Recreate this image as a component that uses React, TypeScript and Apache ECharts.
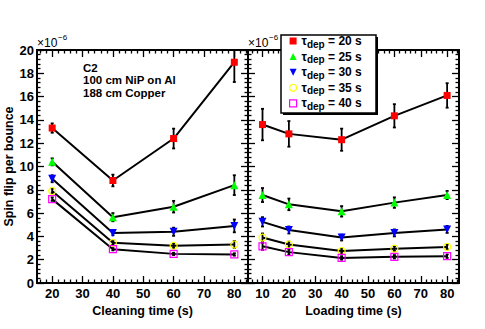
import React, { useEffect, useRef } from "react";
import * as echarts from "echarts";

// ---------- data (values in units of 1e-6) ----------
const tauValues = [20, 25, 30, 35, 40];
const cleaningTimes = [20, 40, 60, 80];
const loadingTimes = [10, 20, 40, 60, 80];

const clean20 = [13.3, 8.8, 12.4, 18.95];
const clean20Err = [0.4, 0.5, 0.85, 1.7];
const clean25 = [10.4, 5.65, 6.55, 8.4];
const clean25Err = [0.3, 0.35, 0.5, 0.85];
const clean30 = [8.95, 4.3, 4.4, 4.9];
const clean30Err = [0.3, 0.2, 0.35, 0.55];
const clean35 = [7.9, 3.45, 3.2, 3.3];
const clean35Err = [0.2, 0.15, 0.2, 0.3];
const clean40 = [7.2, 2.9, 2.5, 2.45];
const clean40Err = [0.15, 0.1, 0.1, 0.1];

const load20 = [13.6, 12.8, 12.3, 14.35, 16.1];
const load20Err = [1.35, 1.1, 0.95, 1.0, 1.05];
const load25 = [7.55, 6.75, 6.15, 6.9, 7.55];
const load25Err = [0.6, 0.5, 0.45, 0.45, 0.35];
const load30 = [5.25, 4.55, 3.9, 4.3, 4.6];
const load30Err = [0.4, 0.3, 0.25, 0.3, 0.3];
const load35 = [3.9, 3.3, 2.75, 2.95, 3.1];
const load35Err = [0.35, 0.25, 0.2, 0.2, 0.2];
const load40 = [3.15, 2.65, 2.15, 2.25, 2.3];
const load40Err = [0.3, 0.2, 0.15, 0.15, 0.15];

const cleanMajorTicks = [20, 30, 40, 50, 60, 70, 80];
const cleanMinorTicks = [16, 18, 22, 24, 26, 28, 32, 34, 36, 38, 42, 44, 46, 48, 52, 54, 56, 58, 62, 64, 66, 68, 72, 74, 76, 78, 82, 84];
const loadMajorTicks = [10, 20, 30, 40, 50, 60, 70, 80];
const loadMinorTicks = [6, 8, 12, 14, 16, 18, 22, 24, 26, 28, 32, 34, 36, 38, 42, 44, 46, 48, 52, 54, 56, 58, 62, 64, 66, 68, 72, 74, 76, 78, 82, 84];

const annotationLines = ["C2", "100 cm NiP on Al", "188 cm Copper"];
const xTitleLeft = "Cleaning time (s)";
const xTitleRight = "Loading time (s)";
const yTitle = "Spin flip per bounce";

// ---------- styles ----------
const FONT = "Liberation Sans, Arial, Helvetica, sans-serif";
const colors = ["#ff0000", "#00ff00", "#0000ff", "#ffff00", "#ff00ff"];
const downTri = "path://M0,0L10,0L5,10Z";
const symbols = ["rect", "triangle", downTri, "circle", "rect"];
const symbolSizes = [7, 8, 8, 7, 7];
const hollow = [false, false, false, true, true];

const cleanSets = [clean20, clean25, clean30, clean35, clean40];
const cleanErrs = [clean20Err, clean25Err, clean30Err, clean35Err, clean40Err];
const loadSets = [load20, load25, load30, load35, load40];
const loadErrs = [load20Err, load25Err, load30Err, load35Err, load40Err];

const seriesName = (tau: number) => `τdep = ${tau} s`;

function App() {
  const ref = useRef<HTMLDivElement>(null);
  useEffect(() => {
    if (!ref.current) return;
    const chart = echarts.init(ref.current, null, { renderer: "svg" });

    const G0 = { left: 37, top: 50, width: 211, height: 233 };
    const G1 = { left: 248, top: 50, width: 211, height: 233 };

    const tickStyle = { color: "#000", width: 1.3 };
    const mkX = (grid: number, pos: string, min: number, max: number, vals: number[], len: number, labels: boolean, name?: string) => ({
      type: "value",
      gridIndex: grid,
      position: pos,
      min,
      max,
      axisLine: { show: false },
      splitLine: { show: false },
      axisTick: { show: true, inside: true, length: len, lineStyle: tickStyle, customValues: vals },
      axisLabel: labels
        ? { show: true, customValues: vals, margin: 4, color: "#000", fontFamily: FONT, fontWeight: "bold", fontSize: 13 }
        : { show: false },
      name: name || "",
      nameLocation: "middle",
      nameGap: 11,
      nameTextStyle: { color: "#000", fontFamily: FONT, fontWeight: "bold", fontSize: 12.5 },
    });
    const mkY = (grid: number, pos: string, labels: boolean, name?: string) => ({
      type: "value",
      gridIndex: grid,
      position: pos,
      min: 0,
      max: 20,
      interval: 2,
      axisLine: { show: false },
      splitLine: { show: false },
      axisTick: { show: true, inside: true, length: 7, lineStyle: tickStyle },
      minorTick: { show: true, splitNumber: 5, length: 3.5, lineStyle: tickStyle },
      axisLabel: labels
        ? { show: true, margin: 3, color: "#000", fontFamily: FONT, fontWeight: "bold", fontSize: 13 }
        : { show: false },
      name: name || "",
      nameLocation: "middle",
      nameGap: 9,
      nameTextStyle: { color: "#000", fontFamily: FONT, fontWeight: "bold", fontSize: 12.5 },
    });

    const xAxis = [
      mkX(0, "bottom", 15, 84.5, cleanMajorTicks, 7, true, xTitleLeft),
      mkX(0, "bottom", 15, 84.5, cleanMinorTicks, 3.5, false),
      mkX(0, "top", 15, 84.5, cleanMajorTicks, 7, false),
      mkX(0, "top", 15, 84.5, cleanMinorTicks, 3.5, false),
      mkX(1, "bottom", 4.5, 84.5, loadMajorTicks, 7, true, xTitleRight),
      mkX(1, "bottom", 4.5, 84.5, loadMinorTicks, 3.5, false),
      mkX(1, "top", 4.5, 84.5, loadMajorTicks, 7, false),
      mkX(1, "top", 4.5, 84.5, loadMinorTicks, 3.5, false),
    ];
    const yAxis = [mkY(0, "left", true, yTitle), mkY(0, "right", false), mkY(1, "left", false), mkY(1, "right", false)];

    const errRender = (params: any, api: any) => {
      const x = api.value(0);
      const y = api.value(1);
      const e = api.value(2);
      const top = api.coord([x, y + e]);
      const bot = api.coord([x, y - e]);
      const st = { stroke: "#000", lineWidth: 1.8 };
      return {
        type: "group",
        children: [
          { type: "line", shape: { x1: top[0], y1: top[1], x2: bot[0], y2: bot[1] }, style: st },
          { type: "line", shape: { x1: top[0] - 1.5, y1: top[1], x2: top[0] + 1.5, y2: top[1] }, style: st },
          { type: "line", shape: { x1: bot[0] - 1.5, y1: bot[1], x2: bot[0] + 1.5, y2: bot[1] }, style: st },
        ],
      };
    };

    const series: any[] = [];
    const addPanel = (xs: number[], sets: number[][], errs: number[][], xIdx: number, yIdx: number) => {
      sets.forEach((vals, i) => {
        series.push({
          type: "custom",
          name: seriesName(tauValues[i]),
          xAxisIndex: xIdx,
          yAxisIndex: yIdx,
          clip: true,
          z: 1,
          renderItem: errRender,
          encode: { x: 0, y: 1 },
          data: xs.map((x, k) => [x, vals[k], errs[i][k]]),
        });
        series.push({
          type: "line",
          name: seriesName(tauValues[i]),
          xAxisIndex: xIdx,
          yAxisIndex: yIdx,
          z: 2,
          symbol: symbols[i],
          symbolSize: symbolSizes[i],
          showAllSymbol: true,
          lineStyle: { color: "#000", width: 2 },
          itemStyle: hollow[i]
            ? { color: "rgba(0,0,0,0)", borderColor: colors[i], borderWidth: 1.2 }
            : { color: colors[i], borderWidth: 0 },
          emphasis: { disabled: true },
          data: xs.map((x, k) => [x, vals[k]]),
        });
      });
    };
    addPanel(cleaningTimes, cleanSets, cleanErrs, 0, 0);
    addPanel(loadingTimes, loadSets, loadErrs, 4, 2);

    const legendData = tauValues.map((t, i) => ({
      name: seriesName(t),
      icon: symbols[i],
      itemStyle: hollow[i]
        ? { color: "#fff", borderColor: colors[i], borderWidth: 1.2 }
        : { color: colors[i], borderWidth: 0 },
    }));

    const expText = (x: number) => [
      { type: "text", x: x, y: 49, z: 5, style: { text: "×10", font: `12px ${FONT}`, fill: "#000", verticalAlign: "bottom", align: "left" } },
      { type: "text", x: x + 21, y: 41, z: 5, style: { text: "−6", font: `8px ${FONT}`, fill: "#000", verticalAlign: "bottom", align: "left" } },
    ];

    chart.setOption({
      animation: false,
      backgroundColor: "#fff",
      grid: [
        { ...G0, show: true, borderColor: "#000", borderWidth: 2, backgroundColor: "transparent" },
        { ...G1, show: true, borderColor: "#000", borderWidth: 2, backgroundColor: "transparent" },
      ],
      xAxis,
      yAxis,
      series,
      legend: {
        show: true,
        orient: "vertical",
        left: 289,
        top: 35,
        padding: 0,
        itemGap: 1.6,
        itemWidth: 7,
        itemHeight: 7,
        selectedMode: false,
        data: legendData,
        formatter: (name: string) => {
          const i = tauValues.findIndex((t) => seriesName(t) === name);
          return `{t|τ}{s|dep}{t| = ${tauValues[i]} s}`;
        },
        textStyle: {
          color: "#000",
          rich: {
            t: { fontFamily: FONT, fontWeight: "bold", fontSize: 12, lineHeight: 16, color: "#000" },
            s: { fontFamily: FONT, fontWeight: "bold", fontSize: 10, lineHeight: 16, verticalAlign: "bottom", color: "#000" },
          },
        },
      },
      graphic: [
        { type: "rect", z: 3, shape: { x: 283, y: 37, width: 95, height: 78 }, style: { fill: "#000" } },
        { type: "rect", z: 3, shape: { x: 281, y: 35, width: 95, height: 78 }, style: { fill: "#fff", stroke: "#000", lineWidth: 1.5 } },
        ...expText(37),
        ...expText(248),
        ...annotationLines.map((t, i) => ({
          type: "text",
          x: 83,
          y: 68 + i * 12.4,
          z: 5,
          style: { text: t, font: `bold 11.5px ${FONT}`, fill: "#000", verticalAlign: "middle", align: "left" },
        })),
      ],
    });
    return () => chart.dispose();
  }, []);
  return <div ref={ref} style={{ position: "absolute", left: 0, top: 0, width: 485, height: 329 }} />;
}

export default App;
